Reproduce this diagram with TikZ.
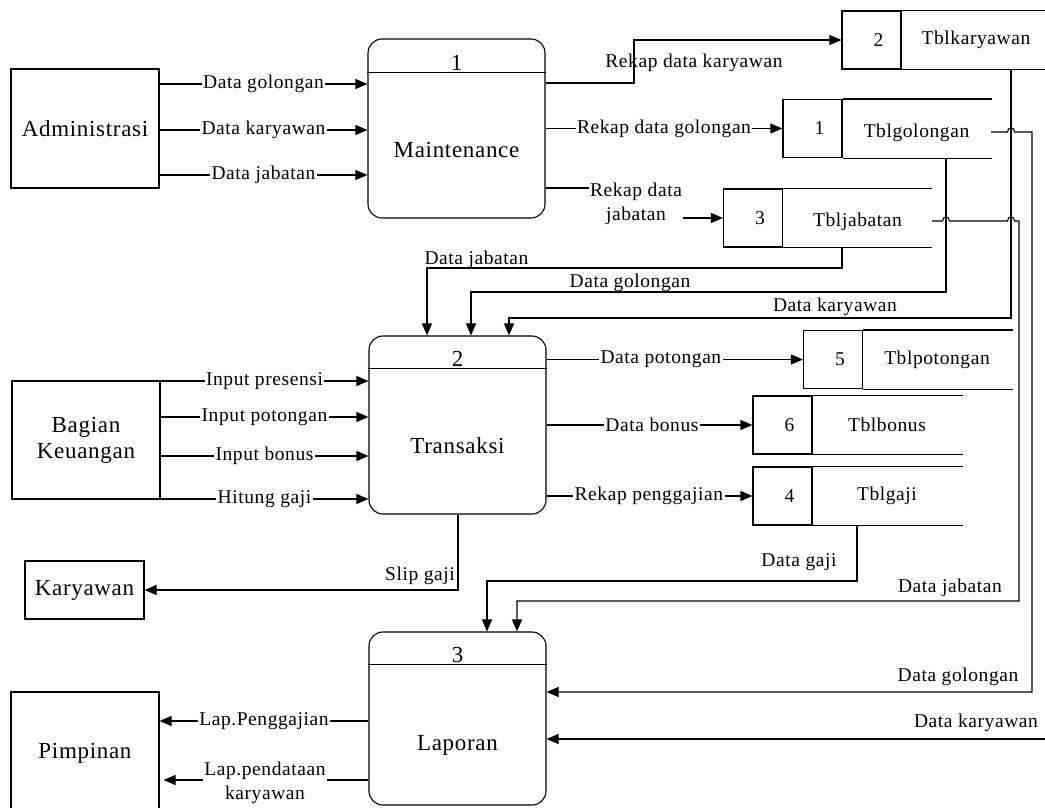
\documentclass[tikz,border=0pt]{standalone}
\usepackage{fontspec}
\setmainfont{Liberation Serif}[LetterSpace=3]
\usetikzlibrary{arrows.meta}
\begin{document}
\begin{tikzpicture}[x=1pt,y=-1pt,
  line width=1.1pt,
  flow/.style={-{Triangle[length=12pt,width=10pt]}},
  lbl/.style={font=\fontsize{19.5}{24}\selectfont, inner sep=1.5pt, align=center},
  onl/.style={lbl, fill=white},
  big/.style={font=\fontsize{23}{26}\selectfont, align=center},
  ent/.style={draw, big, inner sep=0pt},
  proc/.style={draw, rounded corners=14pt, inner sep=0pt, minimum width=177pt},
  cell/.style={draw, inner sep=0pt, minimum width=59pt, minimum height=58pt},
]
\useasboundingbox (0,0) rectangle (1045,807);

% external entities
\node[ent, minimum width=148pt, minimum height=119pt] (adm) at (85,128.5) {Administrasi};
\node[ent, minimum width=148pt, minimum height=118pt] (bk) at (86,440) {Bagian\\Keuangan};
\node[ent, minimum width=119pt, minimum height=58pt] (kar) at (84.5,590) {Karyawan};
\node[ent, minimum width=148pt, minimum height=122pt] (pim) at (85,753) {Pimpinan};

% processes
\node[proc, minimum height=179pt] (p1) at (456.5,128.5) {};
\draw ([yshift=-34pt]p1.north west) -- ([yshift=-34pt]p1.north east);
\node[big, anchor=base] (p1n) at ([yshift=-32pt]p1.north) {1};
\node[big] (p1t) at ([yshift=-21.5pt]p1.center) {Maintenance};

\node[proc, minimum height=178pt] (p2) at (457.5,425) {};
\draw ([yshift=-33pt]p2.north west) -- ([yshift=-33pt]p2.north east);
\node[big, anchor=base] (p2n) at ([yshift=-31pt]p2.north) {2};
\node[big] (p2t) at ([yshift=-21pt]p2.center) {Transaksi};

\node[proc, minimum height=173pt] (p3) at (457.5,718.5) {};
\draw ([yshift=-33pt]p3.north west) -- ([yshift=-33pt]p3.north east);
\node[big, anchor=base] (p3n) at ([yshift=-31pt]p3.north) {3};
\node[big] (p3t) at ([yshift=-26.5pt]p3.center) {Laporan};

% data stores
\node[cell] (s2) at (871.5,40) {};
\node[lbl] (s2n) at ([xshift=7pt]s2.center) {2};
\draw (s2.north east) -- ++(150,0) (s2.south east) -- ++(150,0);
\node[lbl] (s2t) at (976,40) {Tblkaryawan};

\node[cell] (s1) at (812.5,128.5) {};
\node[lbl] (s1n) at ([xshift=7pt]s1.center) {1};
\draw (s1.north east) -- ++(149,0) (s1.south east) -- ++(149,0);
\node[lbl] (s1t) at (916.5,133) {Tblgolongan};

\node[cell] (s3) at (753,218) {};
\node[lbl] (s3n) at ([xshift=7pt]s3.center) {3};
\draw (s3.north east) -- ++(149,0) (s3.south east) -- ++(149,0);
\node[lbl] (s3t) at (857.5,222) {Tbljabatan};

\node[cell] (s5) at (833,359.5) {};
\node[lbl] (s5n) at ([xshift=7pt]s5.center) {5};
\draw (s5.north east) -- ++(150,0) (s5.south east) -- ++(150,0);
\node[lbl] (s5t) at (937,360) {Tblpotongan};

\node[cell] (s6) at (782.5,425) {};
\node[lbl] (s6n) at ([xshift=7pt]s6.center) {6};
\draw (s6.north east) -- ++(150,0) (s6.south east) -- ++(150,0);
\node[lbl] (s6t) at (887,425) {Tblbonus};

\node[cell] (s4) at (782.5,496) {};
\node[lbl] (s4n) at ([xshift=7pt]s4.center) {4};
\draw (s4.north east) -- ++(150,0) (s4.south east) -- ++(150,0);
\node[lbl] (s4t) at (887,496) {Tblgaji};

% Administrasi -> Maintenance
\coordinate (ya) at (0,84);
\coordinate (yb) at (0,130);
\coordinate (yc) at (0,175);
\draw[flow] (adm.east |- ya) -- node[onl] {Data golongan} (p1.west |- ya);
\draw[flow] (adm.east |- yb) -- node[onl] {Data karyawan} (p1.west |- yb);
\draw[flow] (adm.east |- yc) -- node[onl] {Data jabatan} (p1.west |- yc);

% Maintenance -> stores
\coordinate (k1) at (634,83);
\draw[flow] (p1.east |- k1) -- (k1) |- (s2.west);
\node[lbl] (lk1) at (694,63) {Rekap data karyawan};
\draw[flow] (s1.west -| p1.east) -- node[onl, pos=0.5] {Rekap data golongan} (s1.west);
\coordinate (j1) at (636,188);
\draw[flow] (p1.east |- j1) -- (j1) |- (s3.west);
\node[onl] (lj1) at (636,204) {Rekap data\\jabatan};

% stores -> Transaksi
\coordinate (a1) at (842,268);
\coordinate (a2) at (427,268);
\draw[flow] (a1 |- s3.south) -- (a1) -- (a2) -- (a2 |- p2.north);
\node[lbl] (la) at (476.5,260) {Data jabatan};
\coordinate (b1) at (946,292);
\coordinate (b2) at (471,292);
\draw[flow] (b1 |- s1.south) -- (b1) -- (b2) -- (b2 |- p2.north);
\node[lbl] (lb) at (630,283) {Data golongan};
\coordinate (c1) at (1011,318);
\coordinate (c2) at (509,318);
\draw[flow] (c1 |- s2.south) -- (c1) -- (c2) -- (c2 |- p2.north);
\node[lbl] (lc) at (835,307) {Data karyawan};

% Bagian Keuangan -> Transaksi
\coordinate (yd) at (0,381);
\coordinate (ye) at (0,417);
\coordinate (yf) at (0,456);
\coordinate (yg) at (0,499);
\draw[flow] (bk.east |- yd) -- node[onl] {Input presensi} (p2.west |- yd);
\draw[flow] (bk.east |- ye) -- node[onl] {Input potongan} (p2.west |- ye);
\draw[flow] (bk.east |- yf) -- node[onl] {Input bonus} (p2.west |- yf);
\draw[flow] (bk.east |- yg) -- node[onl] {Hitung gaji} (p2.west |- yg);

% Transaksi -> stores
\draw[flow] (s5.west -| p2.east) -- node[onl, pos=0.446] {Data potongan} (s5.west);
\draw[flow] (s6.west -| p2.east) -- node[onl, pos=0.512] {Data bonus} (s6.west);
\draw[flow] (s4.west -| p2.east) -- node[onl, pos=0.497] {Rekap penggajian} (s4.west);

% Transaksi -> Karyawan
\coordinate (sg) at (458,590);
\draw[flow] (sg |- p2.south) -- (sg) -- (kar.east);
\node[lbl] (lsg) at (420,576) {Slip gaji};

% stores -> Laporan
\coordinate (g1) at (857,581);
\coordinate (g2) at (487,581);
\draw[flow] (g1 |- s4.south) -- (g1) -- (g2) -- (g2 |- p3.north);
\node[lbl] (lg) at (799,562) {Data gaji};

\coordinate (h0) at (932,221);
\coordinate (h1) at (1019,601);
\coordinate (h2) at (517,601);
\draw[flow] (h0) -- (942.5,221) .. controls (942.5,215.5) and (949.5,215.5) .. (949.5,221)
  -- (1007.5,221) .. controls (1007.5,215.5) and (1014.5,215.5) .. (1014.5,221)
  -- (h1 |- h0) -- (h1) -- (h2) -- (h2 |- p3.north);
\node[lbl] (lh) at (950,588) {Data jabatan};

\coordinate (m0) at (991,132);
\coordinate (m1) at (1032,692);
\draw[flow] (m0) -- (1007.5,132) .. controls (1007.5,126.5) and (1014.5,126.5) .. (1014.5,132)
  -- (m1 |- m0) -- (m1) -- (p3.east |- m1);
\node[lbl] (lm) at (958,677) {Data golongan};

\coordinate (rk) at (1045,739);
\draw[flow] (rk) -- (p3.east |- rk);
\node[lbl] (lrk) at (976,723) {Data karyawan};

% Laporan -> Pimpinan
\coordinate (lp) at (0,721);
\coordinate (ld) at (0,780);
\draw[flow] (p3.west |- lp) -- node[onl] {Lap.Penggajian} (pim.east |- lp);
\draw[flow, shorten >=4pt] (p3.west |- ld) -- (pim.east |- ld);
\node[onl] (lld) at (265,783) {Lap.pendataan\\karyawan};
\end{tikzpicture}
\end{document}
